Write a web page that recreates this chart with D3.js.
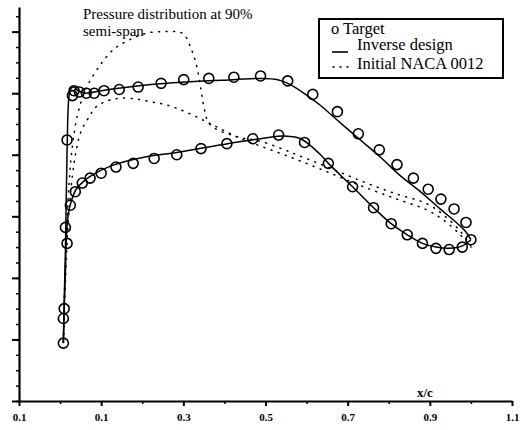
<!DOCTYPE html>
<html>
<head>
<meta charset="utf-8">
<script src="https://cdn.jsdelivr.net/npm/d3@7"></script>
<style>
  html, body { margin: 0; padding: 0; background: #fff; }
  svg { display: block; }
  text { font-family: "Liberation Serif", "Times New Roman", serif; fill: #000; }
</style>
</head>
<body>
<svg id="chart" width="520" height="430"></svg>
<script>
// ---- Data (x/c, Cp) ----
const xTickValues = [-0.1, 0.1, 0.3, 0.5, 0.7, 0.9, 1.1];
const xTickLabels = ["0.1", "0.1", "0.3", "0.5", "0.7", "0.9", "1.1"];
const xMinorTicks = [0.0, 0.2, 0.4, 0.6, 0.8, 1.0];
const yMajorTicks = [1.5, 1.0, 0.5, 0.0, -0.5, -1.0, -1.5];
const yMinorTicks = d3.range(1.5, -1.71, -0.125);

const targetUpper = [
  [0.008, 1.03], [0.008, 0.83], [0.017, -0.62], [0.030, -0.98], [0.034, -1.02],
  [0.047, -1.01], [0.064, -1.00], [0.083, -1.00], [0.107, -1.02], [0.144, -1.03],
  [0.190, -1.05], [0.246, -1.08], [0.301, -1.11], [0.362, -1.12], [0.423, -1.13],
  [0.488, -1.14], [0.554, -1.10], [0.615, -0.99], [0.675, -0.85], [0.726, -0.67],
  [0.777, -0.54], [0.820, -0.42], [0.860, -0.31], [0.896, -0.22], [0.927, -0.14],
  [0.959, -0.06], [0.988, 0.05], [1.000, 0.19]
];
const targetLower = [
  [0.010, 0.75], [0.017, 0.22], [0.013, 0.09], [0.025, -0.09], [0.037, -0.20],
  [0.054, -0.27], [0.073, -0.31], [0.100, -0.35], [0.136, -0.40], [0.178, -0.43],
  [0.229, -0.47], [0.284, -0.50], [0.343, -0.55], [0.406, -0.59], [0.469, -0.63],
  [0.532, -0.66], [0.595, -0.60], [0.653, -0.43], [0.712, -0.24], [0.763, -0.07],
  [0.806, 0.06], [0.845, 0.15], [0.882, 0.22], [0.915, 0.26], [0.947, 0.27],
  [0.979, 0.25]
];
const inverseUpper = [
  [0.008, 1.03], [0.010, 0.69], [0.013, 0.28], [0.017, -0.53], [0.022, -0.98],
  [0.027, -1.04], [0.034, -1.05], [0.044, -1.02], [0.064, -1.00], [0.100, -1.02],
  [0.221, -1.07], [0.301, -1.09], [0.423, -1.11], [0.488, -1.12], [0.530, -1.11],
  [0.561, -1.07], [0.610, -0.96], [0.634, -0.90], [0.675, -0.78], [0.731, -0.62],
  [0.780, -0.48], [0.828, -0.33], [0.877, -0.20], [0.925, -0.06], [0.961, 0.04],
  [0.986, 0.12], [1.000, 0.19]
];
const inverseLower = [
  [0.008, 1.03], [0.010, 0.75], [0.013, 0.45], [0.015, 0.20], [0.020, -0.02],
  [0.027, -0.12], [0.039, -0.22], [0.056, -0.28], [0.076, -0.33], [0.124, -0.41],
  [0.204, -0.48], [0.287, -0.52], [0.408, -0.59], [0.488, -0.63], [0.530, -0.65],
  [0.554, -0.65], [0.586, -0.63], [0.634, -0.50], [0.653, -0.43], [0.712, -0.24],
  [0.763, -0.07], [0.806, 0.06], [0.845, 0.15], [0.882, 0.22], [0.915, 0.25],
  [0.947, 0.26], [0.979, 0.24], [1.000, 0.19]
];
const nacaUpper = [
  [0.008, 1.02], [0.010, 0.69], [0.015, 0.20], [0.022, -0.28], [0.030, -0.57],
  [0.039, -0.77], [0.051, -0.93], [0.068, -1.07], [0.100, -1.24], [0.132, -1.36],
  [0.173, -1.44], [0.214, -1.49], [0.253, -1.50], [0.282, -1.50], [0.301, -1.48],
  [0.318, -1.37], [0.331, -1.24], [0.343, -1.03], [0.350, -0.89], [0.360, -0.77],
  [0.379, -0.71], [0.440, -0.64], [0.488, -0.61], [0.569, -0.51], [0.651, -0.40],
  [0.731, -0.29], [0.811, -0.19], [0.894, -0.10], [0.937, 0.00], [0.974, 0.12],
  [1.000, 0.24]
];
const nacaLower = [
  [0.008, 1.02], [0.013, 0.53], [0.020, 0.04], [0.030, -0.33], [0.039, -0.53],
  [0.051, -0.69], [0.071, -0.81], [0.088, -0.89], [0.117, -0.94], [0.149, -0.96],
  [0.190, -0.95], [0.221, -0.93], [0.253, -0.91], [0.282, -0.88], [0.318, -0.83],
  [0.355, -0.77], [0.391, -0.71], [0.440, -0.63], [0.488, -0.57], [0.569, -0.47],
  [0.651, -0.36], [0.731, -0.25], [0.811, -0.15], [0.894, -0.05], [0.937, 0.04],
  [0.974, 0.15], [1.000, 0.25]
];
const titleLines = ["Pressure distribution at 90%", "semi-span"];
const legendLabels = ["Target", "Inverse design", "Initial NACA 0012"];

// ---- Drawing ----
const svg = d3.select("#chart");
const x = d3.scaleLinear().domain([-0.1, 1.1]).range([19, 512]);
const y = d3.scaleLinear().domain([1.5, -1.7]).range([401, 7]);

const line = d3.line().x(d => x(d[0])).y(d => y(d[1])).curve(d3.curveCatmullRom.alpha(0.5));
const serif = '"Liberation Serif", "Times New Roman", serif';

// x axis
const xAxisG = svg.append("g").attr("transform", `translate(0,${y(1.5)})`);
xAxisG.call(d3.axisBottom(x).tickValues(xTickValues).tickSize(5).tickSizeOuter(0)
  .tickFormat((d, i) => xTickLabels[i]));
xAxisG.attr("font-family", null);
xAxisG.select(".domain").attr("stroke-width", 2.2);
xAxisG.selectAll(".tick line").attr("stroke-width", 2);
xAxisG.selectAll(".tick text").attr("dy", "1.05em")
  .style("font-family", serif).style("font-size", "11px").style("font-weight", "bold");
const xMinorG = svg.append("g").attr("transform", `translate(0,${y(1.5)})`);
xMinorG.call(d3.axisBottom(x).tickValues(xMinorTicks).tickSize(3).tickFormat(""));
xMinorG.select(".domain").remove();
xMinorG.selectAll(".tick line").attr("stroke-width", 1.5);

// y axis
const yAxisG = svg.append("g").attr("transform", `translate(${x(-0.1)},0)`);
yAxisG.call(d3.axisLeft(y).tickValues(yMinorTicks).tickSize(3).tickSizeOuter(0).tickFormat(""));
yAxisG.select(".domain").attr("stroke-width", 2.2);
yAxisG.selectAll(".tick line").attr("stroke-width", 1.5);
const yMajorG = svg.append("g").attr("transform", `translate(${x(-0.1)},0)`);
yMajorG.call(d3.axisLeft(y).tickValues(yMajorTicks).tickSize(7).tickFormat(""));
yMajorG.select(".domain").remove();
yMajorG.selectAll(".tick line").attr("stroke-width", 2);

// x/c label
svg.append("text").attr("x", 417).attr("y", 397)
  .style("font-size", "13px").style("font-weight", "bold").text("x/c");

// NACA dotted
[nacaUpper, nacaLower].forEach(s => {
  svg.append("path").datum(s).attr("d", line).attr("fill", "none")
    .attr("stroke", "#000").attr("stroke-width", 1.5)
    .attr("stroke-dasharray", "1,6.5").attr("stroke-linecap", "round");
});

// Inverse design solid
[inverseUpper, inverseLower].forEach(s => {
  svg.append("path").datum(s).attr("d", line).attr("fill", "none")
    .attr("stroke", "#000").attr("stroke-width", 1.5);
});

// Target circles
svg.append("g").selectAll("circle").data(targetUpper.concat(targetLower)).join("circle")
  .attr("cx", d => x(d[0])).attr("cy", d => y(d[1])).attr("r", 5)
  .attr("fill", "none").attr("stroke", "#000").attr("stroke-width", 1.6);

// Title
svg.append("text").attr("x", 83).attr("y", 19).style("font-size", "15px").text(titleLines[0]);
svg.append("text").attr("x", 83).attr("y", 36).style("font-size", "15px").text(titleLines[1]);

// Legend
const lg = svg.append("g");
lg.append("rect").attr("x", 319).attr("y", 19).attr("width", 184).attr("height", 59)
  .attr("fill", "#fff").attr("stroke", "#000").attr("stroke-width", 2);
lg.append("text").attr("x", 331).attr("y", 34).style("font-size", "16.5px").text("o " + legendLabels[0]);
lg.append("line").attr("x1", 332).attr("x2", 348).attr("y1", 52).attr("y2", 52)
  .attr("stroke", "#000").attr("stroke-width", 1.6);
lg.append("text").attr("x", 357).attr("y", 50).style("font-size", "16.5px").text(legendLabels[1]);
lg.append("line").attr("x1", 333).attr("x2", 353).attr("y1", 67).attr("y2", 67)
  .attr("stroke", "#000").attr("stroke-width", 1.6)
  .attr("stroke-dasharray", "1,6").attr("stroke-linecap", "round");
lg.append("text").attr("x", 357).attr("y", 69).style("font-size", "16.5px").text(legendLabels[2]);
</script>
</body>
</html>
